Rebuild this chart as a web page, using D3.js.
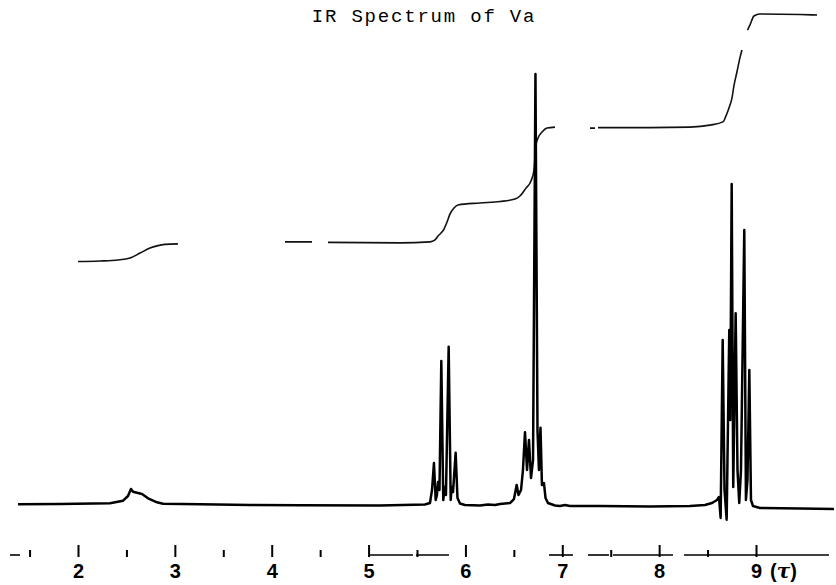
<!DOCTYPE html>
<html>
<head>
<meta charset="utf-8">
<script src="https://cdn.jsdelivr.net/npm/d3@7"></script>
<style>
  html, body { margin: 0; padding: 0; background: #fff; }
  svg { display: block; }
</style>
</head>
<body>
<div id="chart"></div>
<script>
// chemical shift (tau) and relative intensity of the trace
const spectrumTau = [
  1.381, 1.814, 2.330, 2.465, 2.516, 2.547, 2.568, 2.609, 2.661, 2.723, 2.816, 2.878, 3.260, 3.776, 4.292, 5.118,
  5.582, 5.634, 5.655, 5.675, 5.693, 5.706, 5.717, 5.732, 5.751, 5.771, 5.786, 5.799, 5.827, 5.848, 5.858, 5.872,
  5.899, 5.918, 5.944, 5.995, 6.150, 6.233, 6.305, 6.357, 6.460, 6.501, 6.529, 6.548, 6.574, 6.594, 6.615, 6.636,
  6.656, 6.677, 6.698, 6.723, 6.744, 6.759, 6.775, 6.790, 6.811, 6.827, 6.852, 6.925, 6.976, 7.028, 7.079, 7.389,
  7.905, 8.318, 8.473, 8.546, 8.597, 8.618, 8.635, 8.656, 8.675, 8.697, 8.724, 8.734, 8.749, 8.765, 8.790, 8.809,
  8.827, 8.845, 8.879, 8.896, 8.912, 8.931, 8.948, 8.969, 9.041, 9.454, 9.805
];
const spectrumIntensity = [
  0.16, 0.23, 0.39, 1.0, 2.09, 3.71, 3.09, 2.85, 2.55, 1.55, 0.63, 0.30, 0.16, 0, -0.05, -0.12,
  0.12, 0.46, 3.48, 9.74, 1.16, 2.32, 5.34, 3.48, 33.4, 1.16, 4.18, 2.32, 36.7, 1.16, 4.18, 3.02,
  12.1, 1.62, 0.35, 0, -0.12, 0.12, 0, 0.23, 0.46, 1.39, 4.64, 2.32, 3.48, 8.12, 16.9, 8.12,
  15.1, 6.26, 10.4, 100, 17.4, 8.12, 17.9, 4.64, 5.10, 1.62, 0.46, -0.12, -0.23, 0, -0.23, -0.23,
  -0.35, -0.23, 0, 0.46, 1.16, 1.86, -3.0, 38.3, 3.48, -3.4, 40.6, 19.7, 74.5, 4.18, 44.5, 8.12,
  0.46, 8.12, 63.8, 1.16, 5.80, 31.3, 1.16, -0.23, -0.70, -0.81, -0.93
];

// integral trace (null = pen lifted)
const integralTau = [
  2.000, 2.227, 2.413, 2.537, 2.640, 2.743, 2.816, 2.898, 3.032, null,
  4.137, 4.416, null,
  4.581, 5.324, 5.634, 5.686, 5.717, 5.748, 5.779, 5.810, 5.841, 5.882, 5.924, 6.150, 6.357, 6.512,
  6.563, 6.625, 6.677, 6.708, 6.729, 6.750, 6.791, 6.842, 6.925, null,
  7.286, 7.338, null,
  7.369, 7.905, 8.318, 8.525, 8.659, 8.690, 8.721, 8.752, 8.772, 8.803, 8.834, 8.855, null,
  8.912, 8.938, 8.979, 9.041, 9.454, 9.630
];
const integralHeight = [
  0.2, 0.4, 0.8, 1.6, 3.6, 5.6, 6.5, 7.1, 7.3, null,
  8.1, 8.1, null,
  7.9, 7.7, 8.1, 8.9, 10.5, 11.7, 13.3, 16.1, 19.4, 21.8, 23.0, 23.8, 24.4, 25.4,
  26.6, 29.8, 32.7, 37.1, 47.2, 50.0, 52.4, 54.0, 54.4, null,
  54.0, 54.0, null,
  54.2, 54.2, 54.4, 55.2, 56.5, 58.9, 62.1, 66.1, 71.0, 76.6, 82.3, 85.5, null,
  93.5, 95.6, 99.2, 100, 99.8, 99.6
];

// chart-paper scale
const majorTicks = [2, 3, 4, 5, 6, 7, 8, 9];
const minorTicks = [1.5, 2.5, 3.5, 4.5, 5.5, 6.5, 7.5, 8.5];
const axisSegments = [[1.298, 1.401], [5.015, 5.459], [5.490, 5.830], [6.863, 7.110], [7.265, 7.482], [7.523, 8.143], [8.256, 9.753]];
const title = "IR Spectrum of Va";

const W = 836, H = 585;
const axisY = 555;

const svg = d3.select("#chart").append("svg")
  .attr("width", W)
  .attr("height", H);

const x = d3.scaleLinear().domain([2, 9]).range([78, 756]);
const y = d3.scaleLinear().domain([0, 100]).range([505, 74]);
const yInt = d3.scaleLinear().domain([0, 100]).range([262, 14]);

svg.append("text")
  .attr("x", 424)
  .attr("y", 22)
  .attr("text-anchor", "middle")
  .attr("font-family", "'Liberation Mono', 'DejaVu Sans Mono', monospace")
  .attr("font-size", 19)
  .attr("letter-spacing", 1.8)
  .attr("fill", "#000")
  .text(title);

// integral curve
const intPts = integralTau.map((t, i) => ({ t, v: integralHeight[i] }));
const intLine = d3.line()
  .defined(d => d.t != null && d.v != null)
  .x(d => x(d.t))
  .y(d => yInt(d.v))
  .curve(d3.curveMonotoneX);

svg.append("path")
  .datum(intPts)
  .attr("d", intLine)
  .attr("fill", "none")
  .attr("stroke", "#111")
  .attr("stroke-width", 1.6)
  .attr("stroke-linejoin", "round");

// spectrum trace
const specPts = spectrumTau.map((t, i) => ({ t, v: spectrumIntensity[i] }));
const specLine = d3.line()
  .x(d => x(d.t))
  .y(d => y(d.v));

svg.append("path")
  .datum(specPts)
  .attr("d", specLine)
  .attr("fill", "none")
  .attr("stroke", "#000")
  .attr("stroke-width", 2.5)
  .attr("stroke-linejoin", "round");

// axis: broken baseline, ticks pointing up
const axisG = svg.append("g").attr("transform", `translate(0,${axisY})`);

axisG.selectAll("line.seg")
  .data(axisSegments)
  .join("line")
  .attr("class", "seg")
  .attr("x1", d => x(d[0]))
  .attr("x2", d => x(d[1]))
  .attr("y1", 0)
  .attr("y2", 0)
  .attr("stroke", "#000")
  .attr("stroke-width", 1.6);

const majorAxis = d3.axisBottom(x)
  .tickValues(majorTicks)
  .tickSize(-10)
  .tickPadding(9)
  .tickFormat(d3.format("d"));

const gMajor = axisG.append("g").call(majorAxis);
gMajor.select(".domain").remove();
gMajor.selectAll(".tick line").attr("stroke", "#000").attr("stroke-width", 2).attr("y2", -10).attr("y1", 2);
gMajor.selectAll(".tick text")
  .attr("fill", "#000")
  .attr("font-family", "'Liberation Sans', Arial, sans-serif")
  .attr("font-weight", "bold")
  .attr("font-size", 20);

const minorAxis = d3.axisBottom(x)
  .tickValues(minorTicks)
  .tickSize(-5)
  .tickFormat("");

const gMinor = axisG.append("g").call(minorAxis);
gMinor.select(".domain").remove();
gMinor.selectAll(".tick line").attr("stroke", "#000").attr("stroke-width", 2).attr("y1", 2);

// unit label after the 9
axisG.append("text")
  .attr("x", x(9) + 14)
  .attr("y", 23)
  .attr("font-family", "'Liberation Sans', Arial, sans-serif")
  .attr("font-weight", "bold")
  .attr("font-size", 20)
  .attr("fill", "#000")
  .text("(")
  .append("tspan")
  .attr("font-style", "italic")
  .attr("font-family", "'DejaVu Serif', serif")
  .text("τ")
  .append("tspan")
  .attr("font-style", "normal")
  .attr("font-family", "'Liberation Sans', Arial, sans-serif")
  .text(")");
</script>
</body>
</html>
